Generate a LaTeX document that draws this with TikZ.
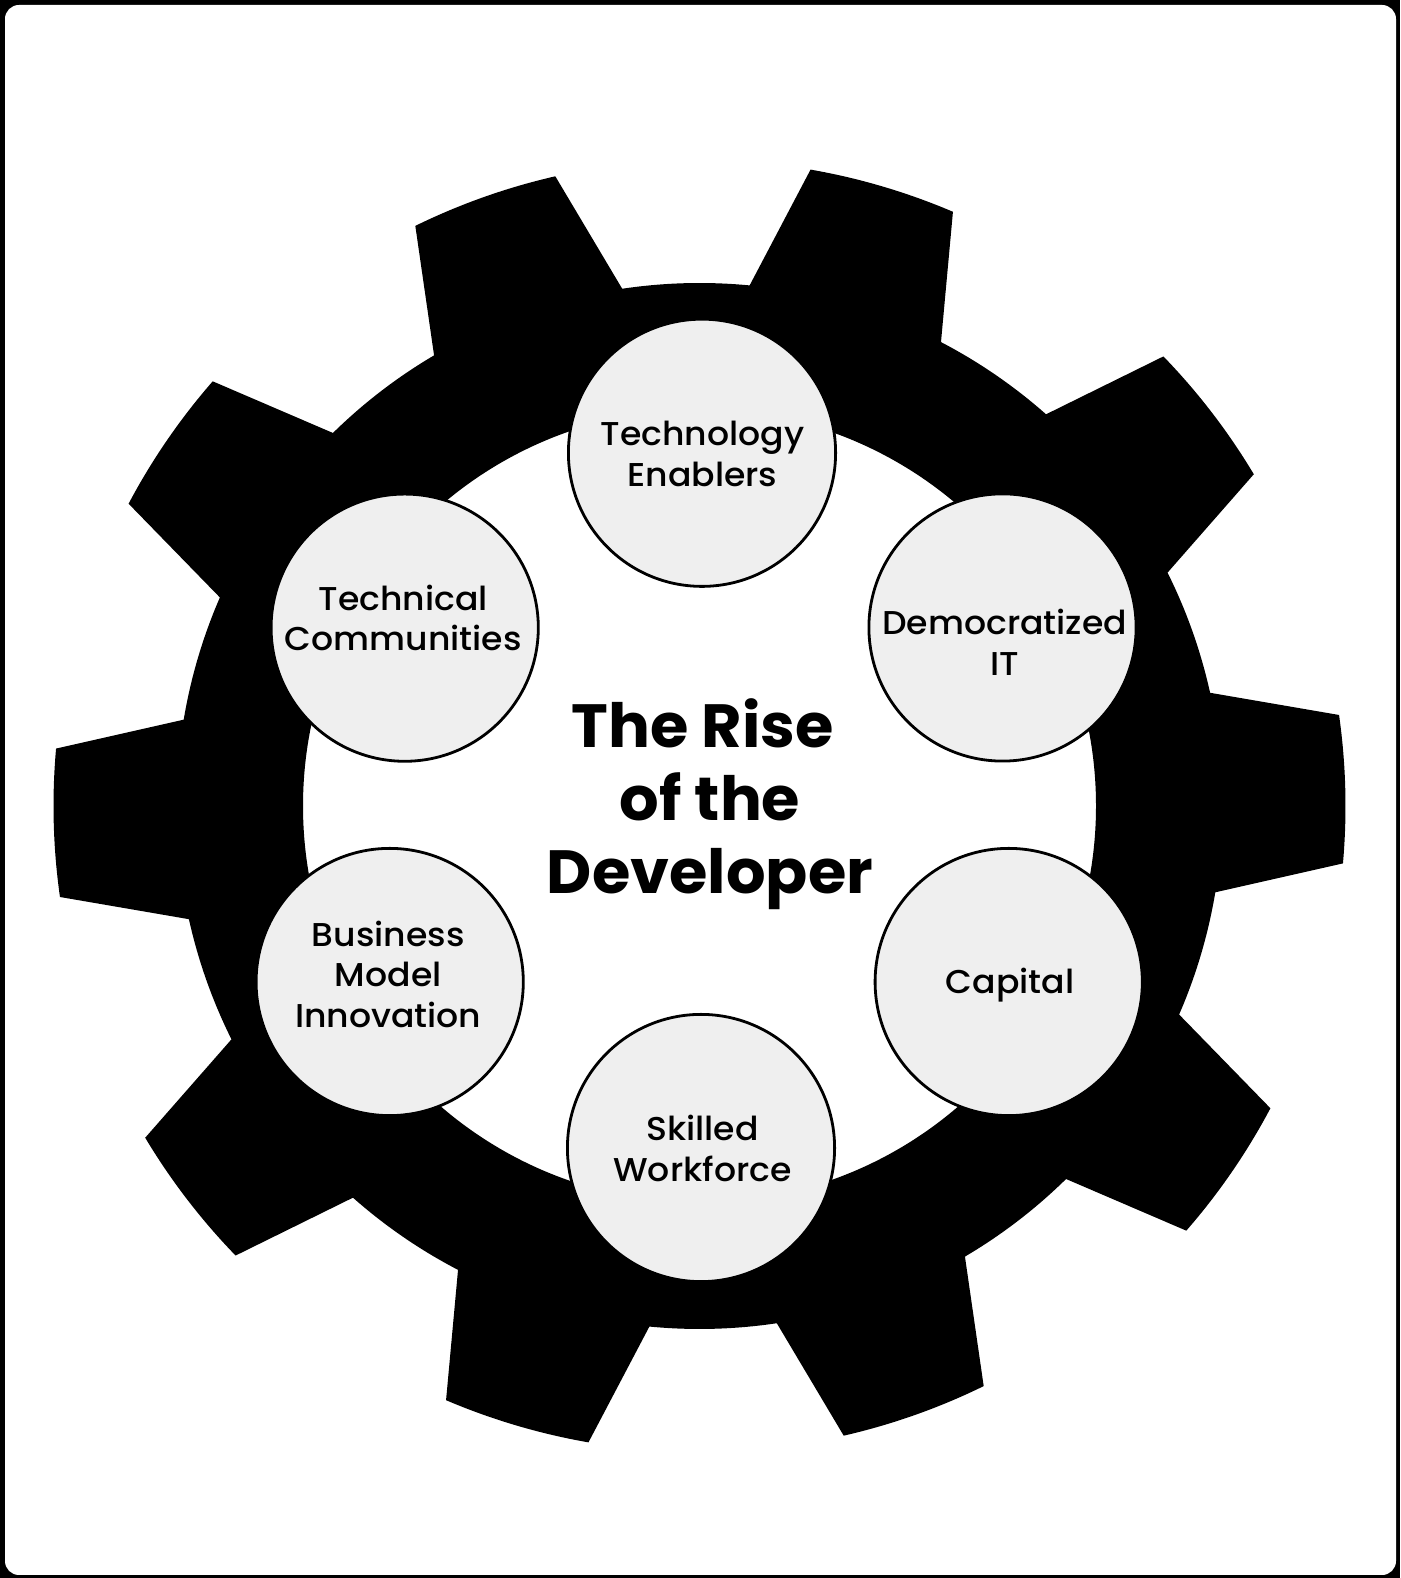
\documentclass[tikz,border=0pt]{standalone}
\usepackage{fontspec}
\setmainfont{Poppins}
\IfFontExistsTF{Poppins Medium}{\newfontfamily\lblfont{Poppins Medium}[FakeStretch=1.05]}{\newfontfamily\lblfont{Poppins}[FakeStretch=1.05]}
\IfFontExistsTF{Poppins Bold}{\newfontfamily\ttlfont{Poppins Bold}[FakeStretch=1.02]}{\newfontfamily\ttlfont{Poppins}[UprightFont=*Bold,FakeStretch=1.02]}
\definecolor{cgray}{RGB}{239,239,239}
\begin{document}
\begin{tikzpicture}[x=1pt,y=1pt,
  pill/.style={circle, draw=black, line width=2.8pt, fill=cgray, minimum size=267.2pt, inner sep=0pt},
  lbl/.style={font=\lblfont\fontsize{33}{40.5}\selectfont, align=center, inner sep=0pt},
  ttl/.style={font=\ttlfont\fontsize{61}{73}\selectfont, align=center, inner sep=0pt}]
\useasboundingbox (0,0) rectangle (1400,1578);
\fill[black] (0,0) rectangle (1400,1578);
\fill[white, rounded corners=14pt] (5,3) rectangle (1396,1573);
% gear
\begin{scope}[shift={(699.5,772)}]
\fill[black, even odd rule] (-9.5:523pt)
  \foreach \k in {0,...,9}{
    -- ({1.5+36*\k-6.6}:646pt)
    arc[start angle={1.5+36*\k-6.6}, end angle={1.5+36*\k+6.6}, radius=646pt]
    -- ({1.5+36*\k+11}:523pt)
    arc[start angle={1.5+36*\k+11}, end angle={1.5+36*\k+25}, radius=523pt]
  } -- cycle
  (0,0) circle[radius=396.5pt];
\end{scope}
% circles
\node[pill] (te)  at (702,1125.2) {};
\node[pill] (dit) at (1002.5,950.5) {};
\node[pill] (cap) at (1008.7,596) {};
\node[pill] (sw)  at (701,430) {};
\node[pill] (bmi) at (389.7,596) {};
\node[pill] (tc)  at (404.7,950.3) {};
% labels
\node[lbl] (te-t)  at (702.5,1124) {Technology\\Enablers};
\node[lbl] (dit-t) at (1004.7,935.75) {Democratized\\IT};
\node[lbl] (cap-t) at (1010,593.15) {Capital};
\node[lbl] (sw-t)  at (702.5,429.75) {Skilled\\Workforce};
\node[lbl] (bmi-t) at (388.3,604) {Business\\Model\\Innovation};
\node[lbl] (tc-t)  at (403.3,960.25) {Technical\\Communities};
% title
\node[ttl] (title) at (710,773.6) {The Rise\hspace*{15pt}\\of the\hspace*{15pt}\\Developer};
\end{tikzpicture}
\end{document}
